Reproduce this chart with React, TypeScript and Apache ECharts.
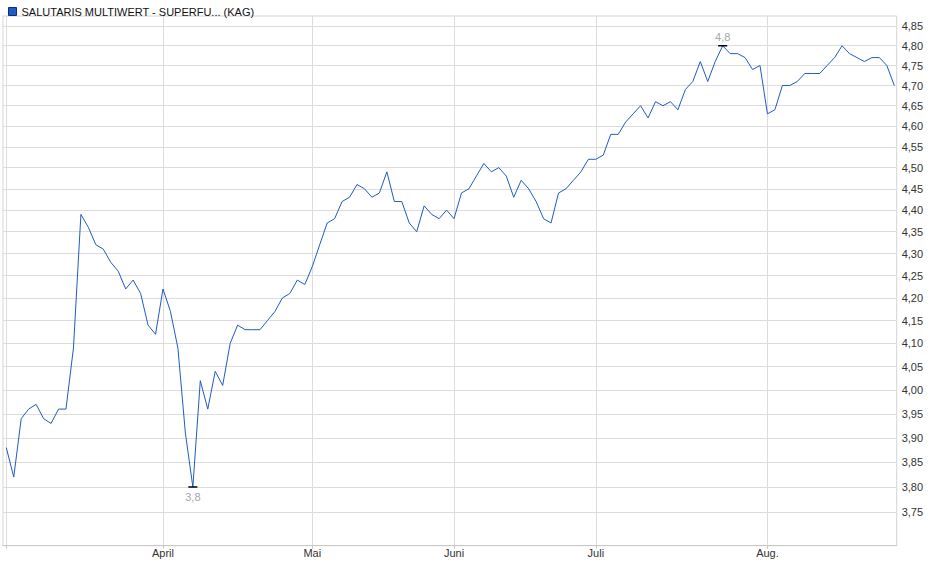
import * as echarts from "echarts";
import { useEffect, useRef } from "react";

const seriesName = "SALUTARIS MULTIWERT - SUPERFU... (KAG)";

// daily prices, March to late August
const prices = [
  3.88, 3.82, 3.94, 3.96, 3.97, 3.94, 3.93, 3.96, 3.96, 4.09,
  4.39, 4.36, 4.32, 4.31, 4.28, 4.26, 4.22, 4.24, 4.21, 4.14,
  4.12, 4.22, 4.17, 4.09, 3.91, 3.8, 4.02, 3.96, 4.04, 4.01,
  4.1, 4.14, 4.13, 4.13, 4.13, 4.15, 4.17, 4.2, 4.21, 4.24,
  4.23, 4.27, 4.32, 4.37, 4.38, 4.42, 4.43, 4.46, 4.45, 4.43,
  4.44, 4.49, 4.42, 4.42, 4.37, 4.35, 4.41, 4.39, 4.38, 4.4,
  4.38, 4.44, 4.45, 4.48, 4.51, 4.49, 4.5, 4.48, 4.43, 4.47,
  4.45, 4.42, 4.38, 4.37, 4.44, 4.45, 4.47, 4.49, 4.52, 4.52,
  4.53, 4.58, 4.58, 4.61, 4.63, 4.65, 4.62, 4.66, 4.65, 4.66,
  4.64, 4.69, 4.71, 4.76, 4.71, 4.76, 4.8, 4.78, 4.78, 4.77,
  4.74, 4.75, 4.63, 4.64, 4.7, 4.7, 4.71, 4.73, 4.73, 4.73,
  4.75, 4.77, 4.8, 4.78, 4.77, 4.76, 4.77, 4.77, 4.75, 4.7,
];

const monthLabels = ["April", "Mai", "Juni", "Juli", "Aug."];
const monthStarts = [21, 41, 60, 79, 102];
const xGridIdx = [0, 21, 41, 60, 79, 102];

const yTicks = [
  3.75, 3.8, 3.85, 3.9, 3.95, 4.0, 4.05, 4.1, 4.15, 4.2, 4.25, 4.3,
  4.35, 4.4, 4.45, 4.5, 4.55, 4.6, 4.65, 4.7, 4.75, 4.8, 4.85,
];

const fmt = (v: number) => v.toFixed(2).replace(".", ",");

const App = () => {
  const chartRef = useRef<HTMLDivElement>(null);

  useEffect(() => {
    document.body.style.margin = "0";
    if (!chartRef.current) return;

    const myChart = echarts.init(chartRef.current, undefined, { renderer: "svg" });
    const lineColor = "#1f5bc4";
    const gridColor = "#dcdcdc";

    const option: echarts.EChartsCoreOption = {
      animation: false,
      textStyle: { fontFamily: "'Liberation Sans', Arial, sans-serif" },
      legend: {
        left: 3,
        top: 1,
        icon: "rect",
        itemWidth: 8,
        itemHeight: 8,
        textStyle: { fontSize: 11, color: "#111" },
        itemStyle: { borderColor: "#0b2d7a", borderWidth: 1 },
        data: [seriesName],
      },
      grid: {
        left: 3,
        right: 43.3,
        top: 16,
        bottom: 33.3,
        show: true,
        borderColor: "#d4d4d4",
        borderWidth: 1,
        outerBoundsMode: "none",
      },
      xAxis: {
        type: "value",
        min: -0.44,
        max: 119.32,
        axisLine: { show: true, lineStyle: { color: "#c8c8c8" } },
        axisTick: {
          show: true,
          customValues: xGridIdx,
          length: 3,
          lineStyle: { color: "#c8c8c8" },
        },
        axisLabel: {
          customValues: monthStarts,
          formatter: (v: number) => monthLabels[monthStarts.indexOf(v)] ?? "",
          fontSize: 11,
          color: "#333",
          margin: 2,
        },
        splitLine: { show: true, lineStyle: { color: gridColor } },
      },
      yAxis: {
        type: "log",
        position: "right",
        min: 3.6837,
        max: 4.8762,
        axisLine: { show: false },
        axisTick: { show: false, customValues: yTicks },
        axisLabel: {
          customValues: yTicks,
          formatter: fmt,
          fontSize: 11,
          color: "#333",
          margin: 5,
        },
        splitLine: { show: true, lineStyle: { color: gridColor } },
      },
      series: [
        {
          name: seriesName,
          type: "line",
          data: prices.map((v, i) => [i, v]),
          symbol: "none",
          lineStyle: { color: lineColor, width: 1 },
          itemStyle: { color: lineColor },
          markPoint: {
            symbol: "rect",
            symbolSize: [9, 1.5],
            itemStyle: { color: "#000" },
            label: {
              fontSize: 11,
              color: "#a6a6a6",
              formatter: (p: { value: number }) => String(p.value).replace(".", ","),
            },
            data: [
              { type: "max", valueDim: "y", label: { position: "top", distance: 2 } },
              { type: "min", valueDim: "y", label: { position: "bottom", distance: 4 } },
            ],
          },
        },
      ],
    };

    myChart.setOption(option);

    return () => {
      myChart.dispose();
    };
  }, []);

  return <div ref={chartRef} style={{ width: "940px", height: "579px" }} />;
};

export default App;
